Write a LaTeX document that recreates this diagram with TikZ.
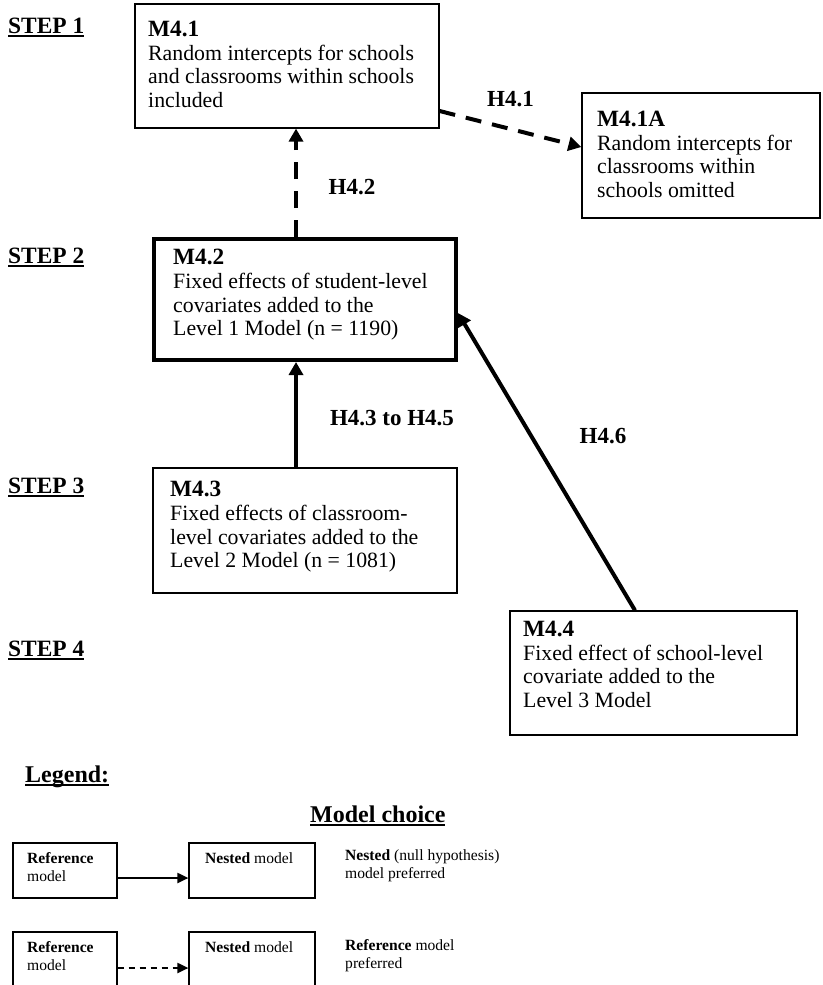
\documentclass[tikz,border=0pt]{standalone}
\usepackage{fontspec}
\setmainfont{Liberation Serif}
\usepackage{tikz}
\usetikzlibrary{positioning}
\usetikzlibrary{arrows.meta}

\newcommand{\bodysize}{\fontsize{21.8}{23.7}\selectfont}
\newcommand{\headsize}{\fontsize{23.3}{23.7}\selectfont\bfseries}
\newcommand{\legsize}{\fontsize{15.6}{18}\selectfont}
\newcommand{\ulbf}[1]{\setbox0=\hbox{\bfseries #1}\rlap{\rule[-4pt]{\wd0}{2.2pt}}\box0}

\begin{document}
\begin{tikzpicture}[x=1pt,y=-1pt]
\useasboundingbox (0,0) rectangle (822,985);

\begin{scope}[every node/.style={anchor=base west, inner sep=0pt, font=\fontsize{23.4}{25}\selectfont}]
   \node (step1) at (8,33) {\ulbf{STEP 1}};
   \node (step2) at (8,263) {\ulbf{STEP 2}};
   \node (step3) at (8,493) {\ulbf{STEP 3}};
   \node (step4) at (8,656) {\ulbf{STEP 4}};
   \node[font=\fontsize{24}{26}\selectfont] (legend) at (25,782) {\ulbf{Legend:}};
   \node[font=\fontsize{24}{26}\selectfont] (choice) at (310,822) {\ulbf{Model choice}};
\end{scope}

\begin{scope}[every node/.style={draw, line width=1.2pt, inner sep=0pt}]
   \node[minimum width=304pt, minimum height=124pt] (m41) at (287,66) {};
   \node[minimum width=238pt, minimum height=125pt] (m41a) at (701,155.5) {};
   \node[minimum width=302pt, minimum height=121pt, line width=4pt] (m42) at (305,299.5) {};
   \node[minimum width=304pt, minimum height=125pt] (m43) at (305,530.5) {};
   \node[minimum width=287pt, minimum height=124pt] (m44) at (653.5,673) {};

   \node[minimum width=104pt, minimum height=55pt] (ref1) at (65,870.5) {};
   \node[minimum width=126pt, minimum height=55pt] (nest1) at (252,870.5) {};
   \node[minimum width=104pt, minimum height=55pt] (ref2) at (65,959.5) {};
   \node[minimum width=126pt, minimum height=55pt] (nest2) at (252,959.5) {};
\end{scope}

\begin{scope}[every node/.style={anchor=north west, inner sep=0pt, align=left, font=\bodysize}]
   \node (t41) at (148,21) {{\headsize M4.1}\\Random intercepts for schools\\and classrooms within schools\\included};
   \node (t41a) at (597,111) {{\headsize M4.1A}\\Random intercepts for\\classrooms within\\schools omitted};
   \node (t42) at (173,249) {{\headsize M4.2}\\Fixed effects of student-level\\covariates added to the\\Level 1 Model (n = 1190)};
   \node (t43) at (170,481) {{\headsize M4.3}\\Fixed effects of classroom-\\level covariates added to the\\Level 2 Model (n = 1081)};
   \node (t44) at (523,621) {{\headsize M4.4}\\Fixed effect of school-level\\covariate added to the\\Level 3 Model};
\end{scope}

\begin{scope}[every node/.style={anchor=north west, inner sep=0pt, align=left, font=\legsize}]
   \node (tr1) at (27,852) {\textbf{Reference}\\model};
   \node (tn1) at (205,852) {\textbf{Nested} model};
   \node (tc1) at (345,849) {\textbf{Nested} (null hypothesis)\\model preferred};
   \node (tr2) at (27,941) {\textbf{Reference}\\model};
   \node (tn2) at (205,941) {\textbf{Nested} model};
   \node (tc2) at (345,939) {\textbf{Reference} model\\preferred};
\end{scope}

\begin{scope}[every edge/.style={draw, line width=4pt},
             every node/.style={font=\fontsize{23}{25}\selectfont\bfseries}]
   \path [-{Triangle[length=13pt,width=14pt]}, dash pattern=on 16pt off 11pt]
      ([yshift=-45pt]m41.east) edge node[yshift=30pt] {H4.1} ([yshift=8.5pt]m41a.west);
   \path [-{Triangle[length=13pt,width=14pt]}, dash pattern=on 17pt off 12pt]
      ([xshift=-9pt]m42.north) edge node[xshift=56pt, yshift=-4.5pt] {H4.2} ([xshift=9pt]m41.south);
   \path [-{Triangle[length=13pt,width=14pt]}]
      ([xshift=-9pt]m43.north) edge node[xshift=96pt, yshift=-3pt] {H4.3 to H4.5} ([xshift=-9pt]m42.south);
   \path [-{Triangle[length=13pt,width=14pt]}]
      ([xshift=-18.5pt]m44.north) edge node[xshift=56.5pt, yshift=26pt] {H4.6} ([yshift=-13.5pt]m42.east);
\end{scope}

\begin{scope}[every edge/.style={draw, line width=2pt}]
   \path [-{Triangle[length=11pt,width=10pt]}] ([yshift=-7.5pt]ref1.east) edge ([yshift=-7.5pt]nest1.west);
   \path [-{Triangle[length=11pt,width=10pt]}, dash pattern=on 6pt off 5pt] ([yshift=-8.5pt]ref2.east) edge ([yshift=-8.5pt]nest2.west);
\end{scope}
\end{tikzpicture}
\end{document}
